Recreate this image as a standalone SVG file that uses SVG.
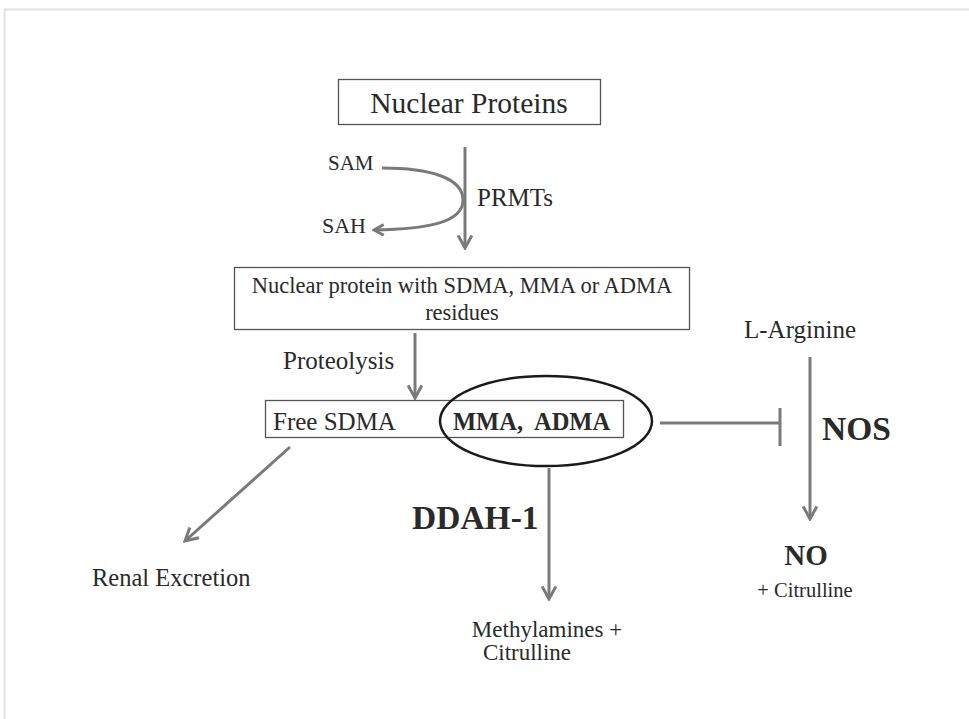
<svg xmlns="http://www.w3.org/2000/svg" width="969" height="719" viewBox="0 0 969 719">
<defs>
<marker id="chev" viewBox="0 0 12 12" refX="10" refY="6" markerWidth="13" markerHeight="13" markerUnits="userSpaceOnUse" orient="auto">
<path d="M1,1 L10,6 L1,11" fill="none" stroke="#7a7a7a" stroke-width="2.6"/>
</marker>
<marker id="chevL" viewBox="0 0 14 14" refX="12" refY="7" markerWidth="16" markerHeight="16" markerUnits="userSpaceOnUse" orient="auto">
<path d="M1,1 L12,7 L1,13" fill="none" stroke="#7a7a7a" stroke-width="2.6"/>
</marker>
</defs>
<style>
text{font-family:"Liberation Serif","Times New Roman",serif;fill:#2a2a2a}
.b{font-weight:bold}
.box{fill:#fff;stroke:#555;stroke-width:1.3}
.arr{fill:none;stroke:#7a7a7a;stroke-width:3}
</style>
<rect x="0" y="0" width="969" height="719" fill="#fff"/>
<rect x="4.5" y="9.5" width="980" height="720" fill="none" stroke="#e2e2e2" stroke-width="2"/>

<g id="connectors">
<path class="arr" d="M465,147 V248" marker-end="url(#chevL)"/>
<path class="arr" d="M382,168 C430,168 463,178 463,200 C463,222 430,229 374,230" marker-end="url(#chev)"/>
<path class="arr" d="M415,333 V398" marker-end="url(#chevL)"/>
<path class="arr" d="M290,447 L185,541" marker-end="url(#chevL)"/>
<path class="arr" d="M549,468 V599" marker-end="url(#chevL)"/>
<path class="arr" d="M810,357 V519" marker-end="url(#chevL)"/>
<path class="arr" d="M660,423 H780 M780,408 V446"/>
</g>

<g id="nuclear-proteins">
<rect class="box" x="338.5" y="79.5" width="262" height="45"/>
<text x="469" y="113" font-size="29.5" text-anchor="middle">Nuclear Proteins</text>
</g>
<g id="sam"><text x="328" y="170" font-size="21">SAM</text></g>
<g id="sah"><text x="322" y="233" font-size="22">SAH</text></g>
<g id="prmts"><text x="477" y="206" font-size="25">PRMTs</text></g>

<g id="nuclear-protein-residues">
<rect class="box" x="234.5" y="267.5" width="455" height="62"/>
<text x="462" y="293" font-size="22.5" text-anchor="middle">Nuclear protein with SDMA, MMA or ADMA</text>
<text x="462" y="320" font-size="22.5" text-anchor="middle">residues</text>
</g>
<g id="proteolysis"><text x="283" y="369" font-size="25">Proteolysis</text></g>

<g id="free-sdma">
<rect class="box" x="265.5" y="400.5" width="358" height="37"/>
<text x="273" y="430" font-size="25">Free SDMA</text>
<text x="453" y="430" font-size="24.5" class="b" xml:space="preserve">MMA,  ADMA</text>
<ellipse cx="546" cy="421" rx="106" ry="45" fill="none" stroke="#1a1a1a" stroke-width="2.5"/>
</g>

<g id="renal"><text x="92" y="586" font-size="24.5">Renal Excretion</text></g>
<g id="ddah"><text x="412" y="529" font-size="33.5" class="b">DDAH-1</text></g>
<g id="methylamines">
<text x="547" y="637" font-size="23" text-anchor="middle">Methylamines +</text>
<text x="527" y="660" font-size="23" text-anchor="middle">Citrulline</text>
</g>
<g id="l-arginine"><text x="800" y="338" font-size="25" text-anchor="middle">L-Arginine</text></g>
<g id="nos"><text x="822" y="440" font-size="33.5" class="b">NOS</text></g>
<g id="no">
<text x="806" y="565" font-size="29" class="b" text-anchor="middle">NO</text>
<text x="805" y="597" font-size="20.5" text-anchor="middle">+ Citrulline</text>
</g>
</svg>
